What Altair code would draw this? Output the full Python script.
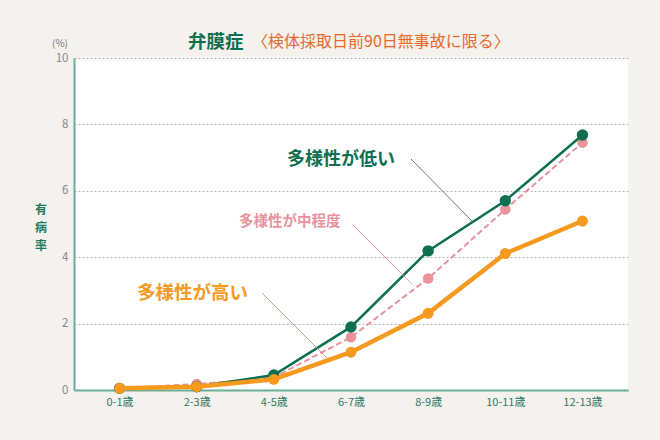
import altair as alt
import pandas as pd

ages = ["0-1歳", "2-3歳", "4-5歳", "6-7歳", "8-9歳", "10-11歳", "12-13歳"]
low_div = [0.05, 0.10, 0.45, 1.90, 4.19, 5.70, 7.68]
mid_div = [0.05, 0.18, 0.38, 1.59, 3.36, 5.44, 7.45]
high_div = [0.05, 0.10, 0.32, 1.14, 2.31, 4.11, 5.09]
y_ticks = [0, 2, 4, 6, 8, 10]

FONT = "Noto Sans CJK JP"
GREEN = "#0d6f4f"
PINK = "#e8939c"
ORANGE = "#f5991f"
AXIS = "#6aae96"

W, H = 554, 332

def frame(vals, name):
    return pd.DataFrame({"age": ages, "rate": vals, "series": name})

x_enc = alt.X("age:N", sort=ages, scale=alt.Scale(type="point", padding=0.59),
              axis=alt.Axis(title=None, labelAngle=0, labelColor="#2e7b69", labelFontSize=11,
                            labelFont=FONT, ticks=False, domainColor=AXIS, domainWidth=2,
                            labelPadding=6, grid=False))
y_enc = alt.Y("rate:Q", scale=alt.Scale(domain=[0, 10], nice=False),
              axis=alt.Axis(title=None, values=y_ticks, labelColor="#888888", labelFontSize=11.5,
                            labelFont=FONT, ticks=False, domainColor=AXIS, domainWidth=2,
                            labelPadding=6, gridColor="#b5b5b5", gridDash=[2, 2], gridWidth=1))

def series(vals, name, color, width, size, dash=None):
    base = alt.Chart(frame(vals, name)).encode(x=x_enc, y=y_enc)
    line_kw = dict(color=color, strokeWidth=width)
    if dash:
        line_kw["strokeDash"] = dash
    line = base.mark_line(**line_kw)
    pts = base.mark_circle(color=color, size=size, opacity=1)
    return line + pts

pink = series(mid_div, "mid", PINK, 2, 110, dash=[6, 3])
green = series(low_div, "low", GREEN, 2.5, 130)
orange = series(high_div, "high", ORANGE, 4.5, 120)

def rule(x1, y1, x2, y2, color):
    return alt.Chart(pd.DataFrame({"a": [0]})).mark_rule(color=color, strokeWidth=0.8).encode(
        x=alt.value(x1 - 74), x2=alt.value(x2 - 74), y=alt.value(y1 - 58), y2=alt.value(y2 - 58))

def label(text, x, y, color, size, weight="bold", align="left", **kw):
    return alt.Chart(pd.DataFrame({"t": [text]})).mark_text(
        font=FONT, fontSize=size, fontWeight=weight, color=color, align=align,
        baseline="middle", **kw).encode(x=alt.value(x - 74), y=alt.value(y - 58), text="t:N")

annotations = [
    rule(411, 159, 472, 221, "#555555"),
    rule(353, 225, 413, 285, PINK),
    rule(262, 293, 327, 358, "#b09060"),
    label("多様性が低い", 287, 160, GREEN, 18),
    label("多様性が中程度", 239, 222, PINK, 14.5),
    label("多様性が高い", 137, 293, ORANGE, 18.5),
    label("弁膜症", 188, 42, GREEN, 18.5),
    label("〈検体採取日前90日無事故に限る〉", 252, 42, "#e8692a", 16, weight="normal"),
    label("(%)", 60, 44, "#777777", 10, weight="normal", align="center"),
    label("有", 41, 210, "#1f7a5c", 12, align="center"),
    label("病", 41, 228, "#1f7a5c", 12, align="center"),
    label("率", 41, 246, "#1f7a5c", 12, align="center"),
]

chart = alt.layer(pink, green, orange, *annotations).properties(
    width=W, height=H,
    background="#f5f1ec",
    padding={"left": 74, "top": 58, "right": 32, "bottom": 50},
    autosize=alt.AutoSizeParams(type="none"),
).configure_view(fill="white", stroke=None)

chart.save("out.html", embed_options={"renderer": "svg", "actions": False})
